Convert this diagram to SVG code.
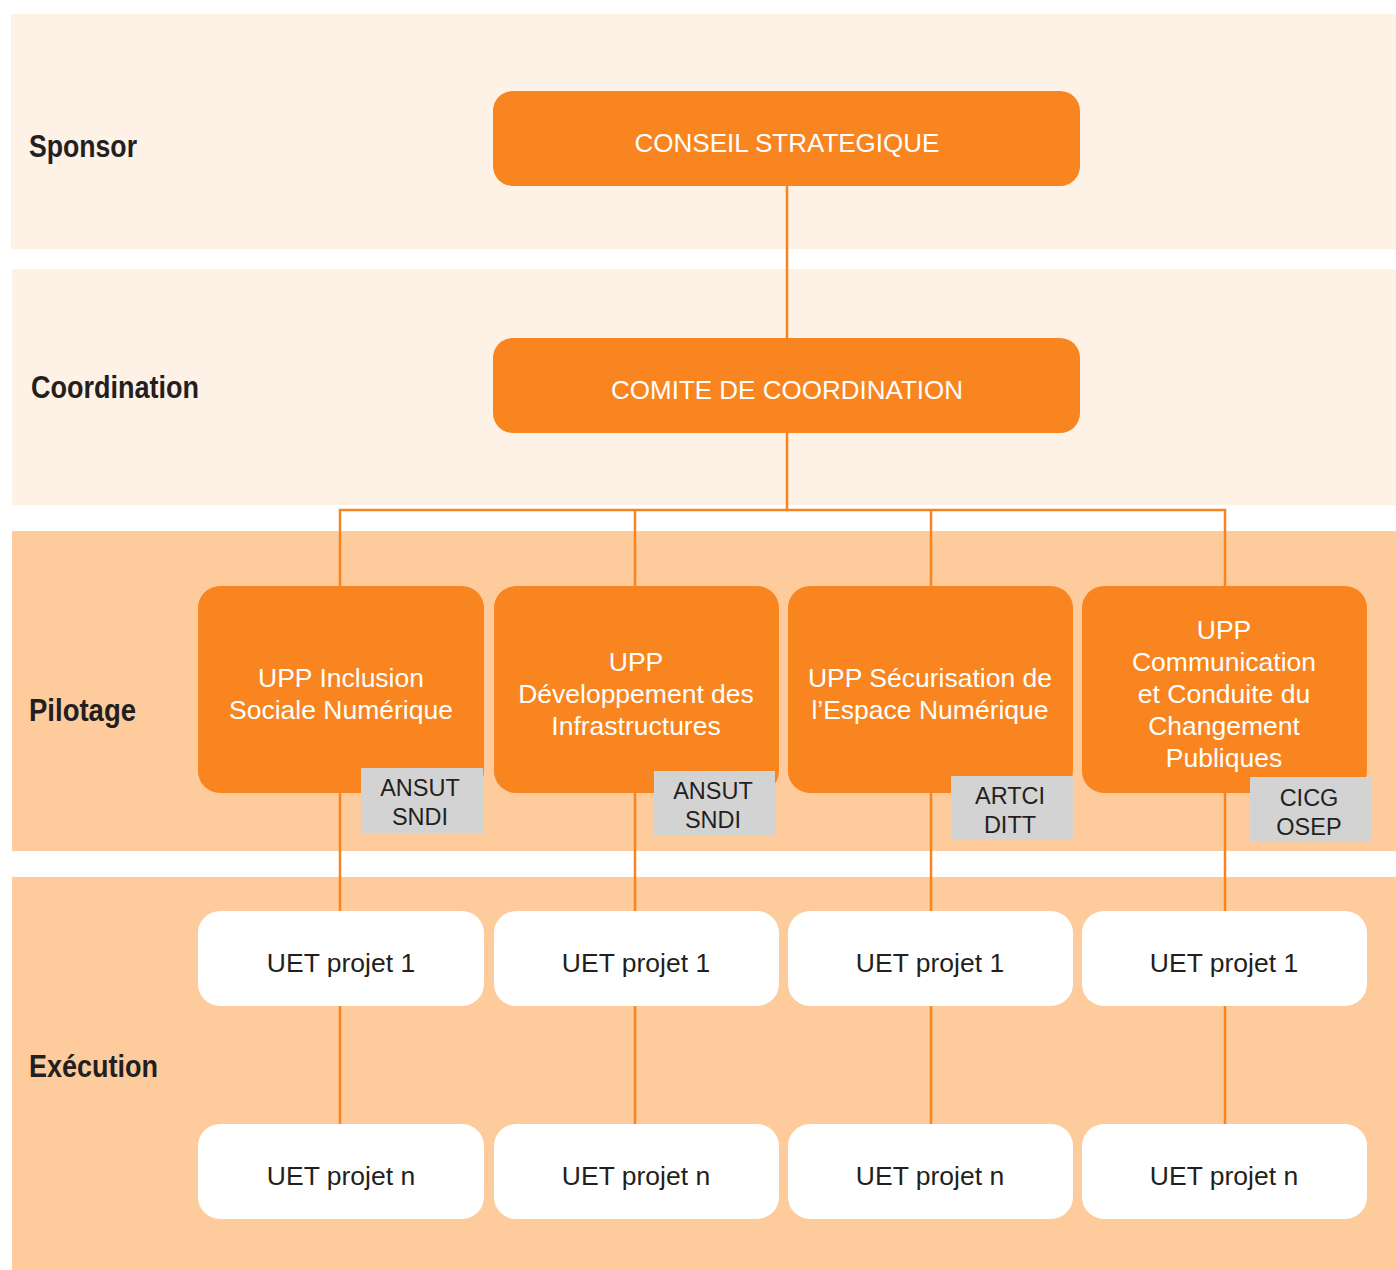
<svg xmlns="http://www.w3.org/2000/svg" width="1396" height="1270" viewBox="0 0 1396 1270">
<style>
.band-light{fill:#FEF1E6}
.band-dark{fill:#FECB9C}
.lbl{font-family:"Liberation Sans Narrow","Liberation Sans",Arial,sans-serif;font-weight:bold;font-size:31px;fill:#231F20}
.obox{fill:#F8851F}
.wbox{fill:#FFFFFF}
.tag{fill:#D3D3D3}
.wt{font-family:"Liberation Sans",Arial,sans-serif;font-size:26.5px;fill:#FFFFFF;text-anchor:middle}
.ht{font-size:26px}
.dt{font-family:"Liberation Sans",Arial,sans-serif;font-size:26.5px;fill:#231F20;text-anchor:middle}
.tt{font-family:"Liberation Sans",Arial,sans-serif;font-size:23.5px;fill:#231F20;text-anchor:middle}
.conn{stroke:#F7841F;stroke-width:2.5;fill:none}
</style>
<rect width="1396" height="1270" fill="#FFFFFF"/>
<g id="bands">
<rect class="band-light" x="11" y="14" width="1385" height="235"/>
<rect class="band-light" x="12" y="269" width="1384" height="236"/>
<rect class="band-dark" x="12" y="531" width="1384" height="320"/>
<rect class="band-dark" x="12" y="877" width="1384" height="393"/>
<text class="lbl" x="29" y="157" textLength="108" lengthAdjust="spacingAndGlyphs">Sponsor</text>
<text class="lbl" x="31" y="398" textLength="168" lengthAdjust="spacingAndGlyphs">Coordination</text>
<text class="lbl" x="29" y="721" textLength="107" lengthAdjust="spacingAndGlyphs">Pilotage</text>
<text class="lbl" x="29" y="1077" textLength="129" lengthAdjust="spacingAndGlyphs">Exécution</text>
</g>
<g id="connectors">
<line class="conn" x1="787" y1="186" x2="787" y2="338"/>
<line class="conn" x1="787" y1="433" x2="787" y2="510"/>
<polyline class="conn" points="340,586 340,510 1225,510 1225,586"/>
<line class="conn" x1="635" y1="510" x2="635" y2="586"/>
<line class="conn" x1="931" y1="510" x2="931" y2="586"/>
<line class="conn" x1="340" y1="793" x2="340" y2="1124"/>
<line class="conn" x1="635" y1="793" x2="635" y2="1124"/>
<line class="conn" x1="931" y1="793" x2="931" y2="1124"/>
<line class="conn" x1="1225" y1="793" x2="1225" y2="1124"/>
</g>
<g id="conseil">
<rect class="obox" x="493" y="91" width="587" height="95" rx="20"/>
<text class="wt ht" x="787" y="152">CONSEIL STRATEGIQUE</text>
</g>
<g id="comite">
<rect class="obox" x="493" y="338" width="587" height="95" rx="20"/>
<text class="wt ht" x="787" y="399">COMITE DE COORDINATION</text>
</g>
<g id="upp1">
<rect class="obox" x="198" y="586" width="286" height="207" rx="22"/>
<text class="wt" x="341" y="687">UPP Inclusion</text>
<text class="wt" x="341" y="719">Sociale Numérique</text>
<rect class="tag" x="361" y="768" width="122" height="65"/>
<text class="tt" x="420" y="796">ANSUT</text>
<text class="tt" x="420" y="825">SNDI</text>
</g>
<g id="upp2">
<rect class="obox" x="494" y="586" width="285" height="207" rx="22"/>
<text class="wt" x="636" y="671">UPP</text>
<text class="wt" x="636" y="703">Développement des</text>
<text class="wt" x="636" y="735">Infrastructures</text>
<rect class="tag" x="654" y="771" width="121" height="65"/>
<text class="tt" x="713" y="799">ANSUT</text>
<text class="tt" x="713" y="828">SNDI</text>
</g>
<g id="upp3">
<rect class="obox" x="788" y="586" width="285" height="207" rx="22"/>
<text class="wt" x="930" y="687">UPP Sécurisation de</text>
<text class="wt" x="930" y="719">l’Espace Numérique</text>
<rect class="tag" x="951" y="776" width="122" height="64"/>
<text class="tt" x="1010" y="804">ARTCI</text>
<text class="tt" x="1010" y="833">DITT</text>
</g>
<g id="upp4">
<rect class="obox" x="1082" y="586" width="285" height="207" rx="22"/>
<text class="wt" x="1224" y="639">UPP</text>
<text class="wt" x="1224" y="671">Communication</text>
<text class="wt" x="1224" y="703">et Conduite du</text>
<text class="wt" x="1224" y="735">Changement</text>
<text class="wt" x="1224" y="767">Publiques</text>
<rect class="tag" x="1250" y="777" width="121" height="65"/>
<text class="tt" x="1309" y="806">CICG</text>
<text class="tt" x="1309" y="835">OSEP</text>
</g>
<g id="uet1-1"><rect class="wbox" x="198" y="911" width="286" height="95" rx="22"/><text class="dt" x="341" y="972">UET projet 1</text></g>
<g id="uet2-1"><rect class="wbox" x="494" y="911" width="285" height="95" rx="22"/><text class="dt" x="636" y="972">UET projet 1</text></g>
<g id="uet3-1"><rect class="wbox" x="788" y="911" width="285" height="95" rx="22"/><text class="dt" x="930" y="972">UET projet 1</text></g>
<g id="uet4-1"><rect class="wbox" x="1082" y="911" width="285" height="95" rx="22"/><text class="dt" x="1224" y="972">UET projet 1</text></g>
<g id="uet1-n"><rect class="wbox" x="198" y="1124" width="286" height="95" rx="22"/><text class="dt" x="341" y="1185">UET projet n</text></g>
<g id="uet2-n"><rect class="wbox" x="494" y="1124" width="285" height="95" rx="22"/><text class="dt" x="636" y="1185">UET projet n</text></g>
<g id="uet3-n"><rect class="wbox" x="788" y="1124" width="285" height="95" rx="22"/><text class="dt" x="930" y="1185">UET projet n</text></g>
<g id="uet4-n"><rect class="wbox" x="1082" y="1124" width="285" height="95" rx="22"/><text class="dt" x="1224" y="1185">UET projet n</text></g>
</svg>
